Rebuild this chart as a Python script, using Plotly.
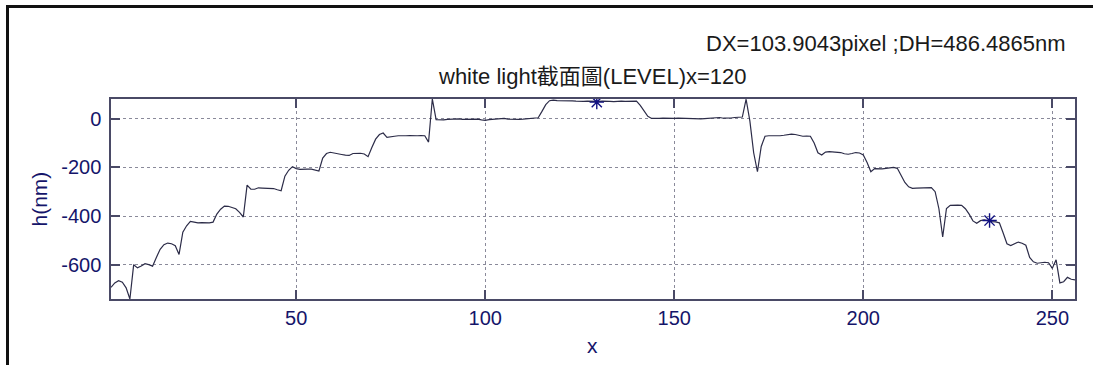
import plotly.graph_objects as go

# Surface profile along the scan line (one height sample per pixel column)
x_pixels = list(range(1, 257))
height_nm = [
    -693, -675, -666, -672, -695, -741, -600, -613, -605, -596,
    -600, -606, -570, -537, -518, -511, -514, -522, -558, -466,
    -440, -422, -425, -428, -427, -429, -428, -425, -392, -372,
    -359, -360, -364, -370, -385, -404, -273, -290, -290, -284,
    -285, -286, -285, -287, -292, -296, -236, -212, -197, -205,
    -208, -206, -207, -207, -211, -215, -162, -143, -138, -142,
    -146, -147, -150, -151, -143, -142, -142, -145, -156, -118,
    -84, -65, -59, -77, -73, -72, -70, -71, -70, -69,
    -71, -70, -69, -70, -96, 81, -4, -6, -5, -3,
    -2, 1, -1, -3, -2, -4, -3, -2, -5, -7,
    -4, -2, -1, 0, 1, -2, -3, -2, -3, -2,
    0, 1, 3, 4, 30, 58, 74, 76, 74, 73,
    72, 72, 73, 72, 70, 71, 72, 71, 70, 71,
    72, 73, 71, 70, 72, 72, 71, 72, 73, 72,
    55, 30, 10, 1, 0, 1, 2, 1, 0, 1,
    2, 1, 0, 1, 0, -1, -1, 0, 2, 3,
    4, 5, 2, 1, 3, 5, 6, 7, 80, -10,
    -140, -218, -114, -72, -70, -71, -70, -70, -68, -66,
    -63, -65, -70, -72, -71, -72, -100, -140, -149, -137,
    -135, -136, -138, -139, -144, -146, -143, -139, -141, -149,
    -180, -218, -205, -207, -206, -204, -202, -200, -204, -235,
    -262, -280, -286, -285, -284, -283, -282, -283, -300, -370,
    -486, -369, -356, -354, -355, -356, -370, -392, -420, -430,
    -419, -416, -420, -423, -424, -428, -470, -514, -521, -514,
    -507, -512, -520, -570, -588, -594, -592, -590, -592, -615,
    -580, -675, -670, -652, -660, -662,
]

# Two measurement cursors (DX / DH between them)
cursor_x = [129.5, 233.4]
cursor_h = [68, -418.5]

x_ticks = [50, 100, 150, 200, 250]
x_tick_text = ["50", "100", "150", "200", "250"]
y_ticks = [-600, -400, -200, 0]
y_tick_text = ["-600", "-400", "-200", "0"]

title_text = "white light截面圖(LEVEL)x=120"
measure_text = "DX=103.9043pixel ;DH=486.4865nm"

FONT = "Liberation Sans, Arial, Noto Sans CJK TC, sans-serif"
NAVY = "#15156a"
AXIS = "#4a4a66"
GRID = "#8a8a9a"

# page size; positions below are measured in pixels from the top-left corner
W, H = 1093, 365


def px_x(px):
    return px / W


def px_y(py):
    return (H - py) / H


fig = go.Figure()
fig.add_trace(go.Scatter(
    x=x_pixels, y=height_nm, mode="lines",
    line=dict(color="#2c2c48", width=1.2),
    showlegend=False, hoverinfo="skip",
))
fig.add_trace(go.Scatter(
    x=cursor_x, y=cursor_h, mode="markers",
    marker=dict(symbol="asterisk-open", size=12, color="#101080",
                line=dict(color="#101080", width=1.4)),
    showlegend=False, hoverinfo="skip",
))
# empty trace that carries the outer figure frame axes
fig.add_trace(go.Scatter(
    x=[0.5], y=[0.5], xaxis="x2", yaxis="y2", mode="markers",
    marker=dict(opacity=0), showlegend=False, hoverinfo="skip",
))

axis_common = dict(
    showline=True, linecolor=AXIS, linewidth=1.5, mirror="ticks",
    ticks="inside", ticklen=9, tickwidth=1.5, tickcolor=AXIS,
    showgrid=True, gridcolor=GRID, griddash="dot", gridwidth=1,
    zeroline=False, automargin=False,
    tickfont=dict(family=FONT, size=20, color=NAVY),
)

frame_axis = dict(
    showline=True, linecolor="#111111", linewidth=2.5,
    showgrid=False, zeroline=False, showticklabels=False, ticks="",
    range=[0, 1], fixedrange=True, automargin=False,
)

fig.update_layout(
    width=W, height=H,
    margin=dict(l=0, r=0, t=0, b=0),
    paper_bgcolor="white", plot_bgcolor="rgba(0,0,0,0)",
    xaxis=dict(domain=[px_x(111), px_x(1075)], range=[1, 256],
               tickvals=x_ticks, ticktext=x_tick_text, **axis_common),
    yaxis=dict(domain=[px_y(299), px_y(99)],
               range=[min(height_nm), max(height_nm)],
               tickvals=y_ticks, ticktext=y_tick_text,
               ticklabelstandoff=4, **axis_common),
    xaxis2=dict(domain=[px_x(8.5), 1.0], anchor="y2", side="top",
                **frame_axis),
    yaxis2=dict(domain=[0.0, px_y(7.5)], anchor="x2", side="left",
                **frame_axis),
)

fig.add_annotation(text=title_text, xref="paper", yref="paper",
                   x=px_x(592), y=px_y(76), xanchor="center",
                   yanchor="middle", showarrow=False,
                   font=dict(family=FONT, size=22, color="#1a1a1a"))
fig.add_annotation(text=measure_text, xref="paper", yref="paper",
                   x=px_x(1068), y=px_y(44), xanchor="right",
                   yanchor="middle", showarrow=False,
                   font=dict(family=FONT, size=22, color="#1a1a1a"))
fig.add_annotation(text="h(nm)", xref="paper", yref="paper",
                   x=px_x(38.5), y=px_y(199), xanchor="center",
                   yanchor="middle", textangle=-90, showarrow=False,
                   font=dict(family=FONT, size=21, color=NAVY))
fig.add_annotation(text="x", xref="paper", yref="paper",
                   x=px_x(592), y=px_y(345), xanchor="center",
                   yanchor="middle", showarrow=False,
                   font=dict(family=FONT, size=21, color=NAVY))

fig.write_html("out.html")
